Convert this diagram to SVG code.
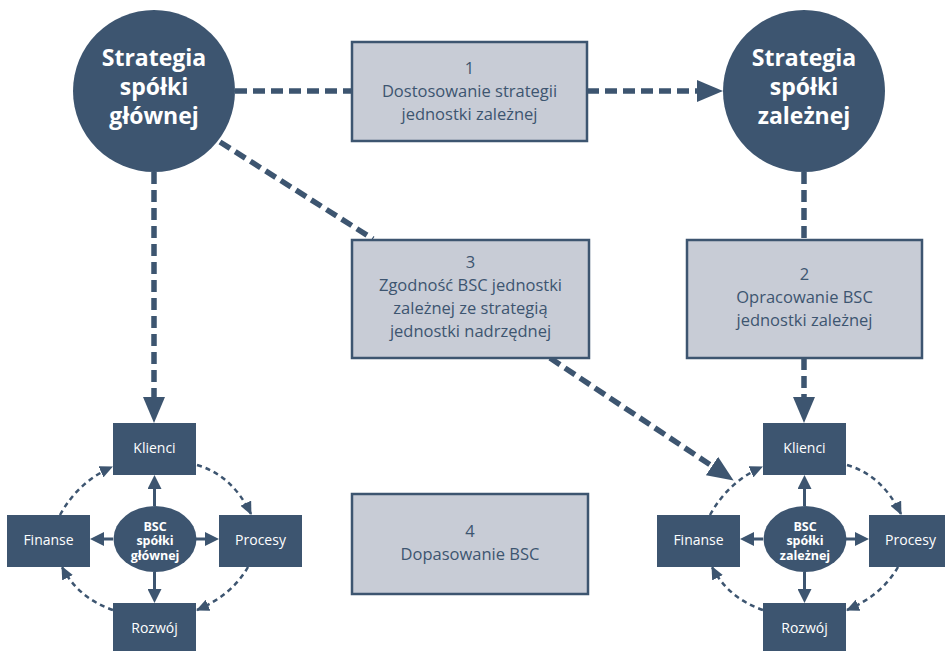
<svg xmlns="http://www.w3.org/2000/svg" width="945" height="651" viewBox="0 0 945 651">
<defs>
<style>
.big{fill:#3d5570}
.bigt{fill:#fff;font-family:"Open Sans","Noto Sans",sans-serif;font-weight:bold;font-size:23px;text-anchor:middle}
.box{fill:#c8ccd6;stroke:#3d5570;stroke-width:2.5}
.boxt{fill:#3d5570;font-family:"Open Sans","Noto Sans",sans-serif;font-size:16.5px;text-anchor:middle}
.sq{fill:#3d5570}
.sqt{fill:#fff;font-family:"Open Sans","Noto Sans",sans-serif;font-size:14px;text-anchor:middle}
.elt{fill:#fff;font-family:"Open Sans","Noto Sans",sans-serif;font-weight:bold;font-size:12.5px;text-anchor:middle}
.thick{fill:none;stroke:#3d5570;stroke-width:5.5;stroke-dasharray:12 6}
.solid{fill:none;stroke:#3d5570;stroke-width:3}
.thin{fill:none;stroke:#3d5570;stroke-width:2.5;stroke-dasharray:5 4}
</style>
<marker id="ah" viewBox="0 0 26 22" refX="0" refY="11" markerWidth="26" markerHeight="22" markerUnits="userSpaceOnUse" orient="auto"><path d="M0,0 L26,11 L0,22 z" fill="#3d5570"/></marker>
<marker id="sh" viewBox="0 0 14 14" refX="0" refY="7" markerWidth="14" markerHeight="14" markerUnits="userSpaceOnUse" orient="auto"><path d="M0,0 L14,7 L0,14 z" fill="#3d5570"/></marker>
<marker id="dh" viewBox="0 0 13 12" refX="12" refY="6" markerWidth="13" markerHeight="12" markerUnits="userSpaceOnUse" orient="auto"><path d="M0,0 L13,6 L0,12 z" fill="#3d5570"/></marker>
</defs>

<g id="connectors">
<path class="thick" d="M235,91 H352"/>
<path class="thick" d="M587,91 H697" marker-end="url(#ah)"/>
<path class="thick" d="M220,142 L373,239"/>
<path class="thick" d="M550,358 L712,466" marker-end="url(#ah)"/>
<path class="thick" d="M154,172 V397" marker-end="url(#ah)"/>
<path class="thick" d="M804,172 V240"/>
<path class="thick" d="M804,358 V397" marker-end="url(#ah)"/>

<g id="left-cluster-links">
<path class="solid" d="M154.5,506 V489" marker-end="url(#sh)"/>
<path class="solid" d="M154.5,572 V589" marker-end="url(#sh)"/>
<path class="solid" d="M113,539 H104" marker-end="url(#sh)"/>
<path class="solid" d="M196,539 H205" marker-end="url(#sh)"/>
<path class="thin" d="M60,515 Q78,482 112,467" marker-end="url(#dh)"/>
<path class="thin" d="M197,465 Q232,475 251,514" marker-end="url(#dh)"/>
<path class="thin" d="M248,567 Q232,595 197,610" marker-end="url(#dh)"/>
<path class="thin" d="M113,610 Q78,598 62,567" marker-end="url(#dh)"/>
</g>
<g id="right-cluster-links" transform="translate(650,0)">
<path class="solid" d="M154.5,506 V489" marker-end="url(#sh)"/>
<path class="solid" d="M154.5,572 V589" marker-end="url(#sh)"/>
<path class="solid" d="M113,539 H104" marker-end="url(#sh)"/>
<path class="solid" d="M196,539 H205" marker-end="url(#sh)"/>
<path class="thin" d="M60,515 Q78,482 112,467" marker-end="url(#dh)"/>
<path class="thin" d="M197,465 Q232,475 251,514" marker-end="url(#dh)"/>
<path class="thin" d="M248,567 Q232,595 197,610" marker-end="url(#dh)"/>
<path class="thin" d="M113,610 Q78,598 62,567" marker-end="url(#dh)"/>
</g>
</g>

<g id="strategia-glowna">
<circle class="big" cx="154" cy="91" r="81"/>
<text class="bigt" x="154" y="66">Strategia</text>
<text class="bigt" x="154" y="95">spółki</text>
<text class="bigt" x="154" y="124">głównej</text>
</g>
<g id="strategia-zalezna">
<circle class="big" cx="804" cy="91" r="81"/>
<text class="bigt" x="804" y="66">Strategia</text>
<text class="bigt" x="804" y="95">spółki</text>
<text class="bigt" x="804" y="124">zależnej</text>
</g>

<g id="box1">
<rect class="box" x="352" y="42" width="235" height="99"/>
<text class="boxt" x="469.5" y="74">1</text>
<text class="boxt" x="469.5" y="97">Dostosowanie strategii</text>
<text class="boxt" x="469.5" y="120">jednostki zależnej</text>
</g>
<g id="box3">
<rect class="box" x="352" y="240" width="237" height="118"/>
<text class="boxt" x="470.5" y="268">3</text>
<text class="boxt" x="470.5" y="291">Zgodność BSC jednostki</text>
<text class="boxt" x="470.5" y="314">zależnej ze strategią</text>
<text class="boxt" x="470.5" y="337">jednostki nadrzędnej</text>
</g>
<g id="box2">
<rect class="box" x="687" y="240" width="235" height="118"/>
<text class="boxt" x="804.5" y="280">2</text>
<text class="boxt" x="804.5" y="303">Opracowanie BSC</text>
<text class="boxt" x="804.5" y="326">jednostki zależnej</text>
</g>
<g id="box4">
<rect class="box" x="352" y="494" width="236" height="100"/>
<text class="boxt" x="470" y="537">4</text>
<text class="boxt" x="470" y="560">Dopasowanie BSC</text>
</g>

<g id="l-klienci"><rect class="sq" x="113" y="423" width="83" height="52"/><text class="sqt" x="154.5" y="453">Klienci</text></g>
<g id="l-finanse"><rect class="sq" x="7" y="515" width="83" height="52"/><text class="sqt" x="48.5" y="545">Finanse</text></g>
<g id="l-procesy"><rect class="sq" x="219" y="515" width="83" height="52"/><text class="sqt" x="260.5" y="545">Procesy</text></g>
<g id="l-rozwoj"><rect class="sq" x="113" y="603" width="83" height="52"/><text class="sqt" x="154.5" y="633">Rozwój</text></g>
<g id="l-bsc"><ellipse class="sq" cx="155" cy="539" rx="41.5" ry="33"/><text class="elt" x="155" y="530.5">BSC</text><text class="elt" x="155" y="545">spółki</text><text class="elt" x="155" y="559.5">głównej</text></g>

<g id="r-klienci"><rect class="sq" x="763" y="423" width="83" height="52"/><text class="sqt" x="804.5" y="453">Klienci</text></g>
<g id="r-finanse"><rect class="sq" x="657" y="515" width="83" height="52"/><text class="sqt" x="698.5" y="545">Finanse</text></g>
<g id="r-procesy"><rect class="sq" x="869" y="515" width="83" height="52"/><text class="sqt" x="910.5" y="545">Procesy</text></g>
<g id="r-rozwoj"><rect class="sq" x="763" y="603" width="83" height="52"/><text class="sqt" x="804.5" y="633">Rozwój</text></g>
<g id="r-bsc"><ellipse class="sq" cx="805" cy="539" rx="41.5" ry="33"/><text class="elt" x="805" y="530.5">BSC</text><text class="elt" x="805" y="545">spółki</text><text class="elt" x="805" y="559.5">zależnej</text></g>
</svg>
